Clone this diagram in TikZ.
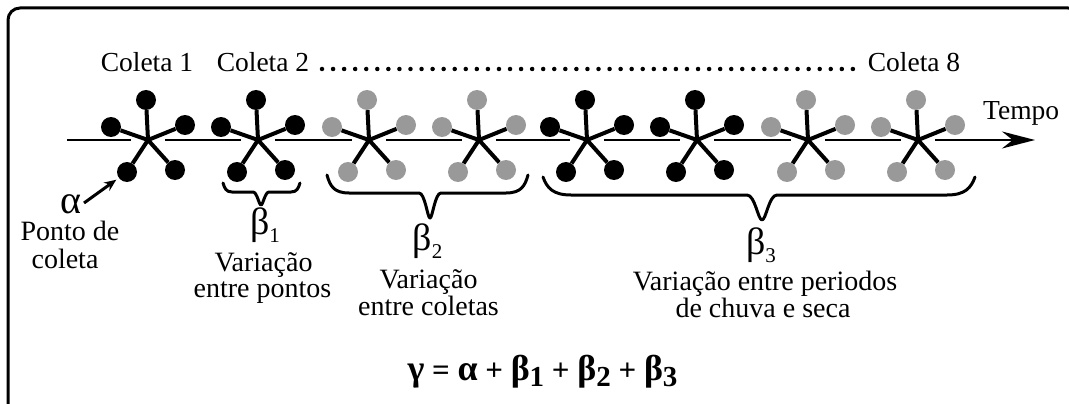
\documentclass[tikz,border=0pt]{standalone}
\usepackage{fontspec}
\setmainfont{Liberation Serif}
\usetikzlibrary{arrows.meta}
\definecolor{dotgray}{HTML}{999999}
\newcommand{\fgr}[1]{{\fontsize{36}{36}\selectfont #1}}
\newcommand{\fsb}[1]{\raisebox{-6pt}{\fontsize{29}{29}\selectfont #1}}
\begin{document}
\begin{tikzpicture}[x=1pt,y=-1pt,
  lbl/.style={inner sep=0pt, font=\fontsize{27.5}{27}\selectfont},
  txt/.style={inner sep=0pt, font=\fontsize{28}{27}\selectfont},
  greek/.style={inner sep=0pt, font=\fontsize{38}{38}\selectfont},
  arm/.style={line width=4pt},
  bdot/.style={circle, fill=black, inner sep=0pt, minimum size=20pt},
  gdot/.style={circle, fill=dotgray, inner sep=0pt, minimum size=20pt},
  axisline/.style={line width=2pt},
  bracepath/.style={line width=3pt, line cap=round, line join=round},
]
\useasboundingbox (0,0) rectangle (1069,404);
% frame
\begin{scope}
\clip (0,0) rectangle (1069,404);
\draw[line width=3pt, rounded corners=12pt] (8,8) rectangle (1080,415);
\end{scope}

% stars
\foreach \i/\x/\c in {1/148/bdot,2/258/bdot,3/369/gdot,4/479/gdot,5/587/bdot,6/697/bdot,7/808/gdot,8/918/gdot}{
  \coordinate (c\i) at (\x,140);
  \node[\c] (t\i)  at (\x-2,100) {};
  \node[\c] (l\i)  at (\x-37,127) {};
  \node[\c] (r\i)  at (\x+37,125) {};
  \node[\c] (ll\i) at (\x-21,172) {};
  \node[\c] (lr\i) at (\x+27,170) {};
  \draw[arm] (c\i) -- (t\i);
  \draw[arm] (c\i) -- (l\i);
  \draw[arm] (c\i) -- (r\i);
  \draw[arm] (c\i) -- (ll\i);
  \draw[arm] (c\i) -- (lr\i);
}

% time axis
\coordinate (axstart) at (67,140);
\coordinate (axend) at (1035,140);
\draw[axisline] (axstart) -- ([xshift=-17pt]c1);
\foreach \i/\j in {1/2,2/3,3/4,4/5,5/6,6/7,7/8}{
  \draw[axisline] ([xshift=17pt]c\i) -- ([xshift=-17pt]c\j);
}
\draw[axisline, -{Stealth[length=33pt,width=17pt]}] ([xshift=17pt]c8) -- (axend);
\node[lbl, anchor=base west] (tempo) at (983,119) {Tempo};

% collection labels
\node[lbl, anchor=base] (col1) at (147,72) {Coleta 1};
\node[lbl, anchor=base] (col2) at (263,72) {Coleta 2};
\node[lbl, anchor=base] (col8) at (914,72) {Coleta 8};
\coordinate (dotA) at (322,69);
\coordinate (dotB) at (853,69);
\draw[line width=4.5pt, line cap=round, dash pattern=on 0pt off 11.06pt] (dotA) -- (dotB);

% alpha
\node[inner sep=0pt, font=\fontsize{40}{40}\selectfont, anchor=base] (alpha) at (71,213) {α};
\coordinate (aS) at (84,203);
\draw[line width=3pt, shorten >=3pt, -{Stealth[length=12pt,width=10pt]}] (aS) -- (ll1);
\node[txt, anchor=base] (ponto1) at (70,240) {Ponto de};
\node[txt, anchor=base] (ponto2) at (65,268) {coleta};

% braces
\draw[bracepath] (223,183) .. controls (224.5,188) and (226,192) .. (232,192) -- (253,192)
  .. controls (257,192) and (259,205) .. (261,205)
  .. controls (263,205) and (265,192) .. (269,192) -- (291,192)
  .. controls (297,192) and (298.5,188) .. (300,183);
\draw[bracepath] (327,175) .. controls (330,186) and (334,193) .. (349,193) -- (419,193)
  .. controls (425,193) and (427.5,218) .. (430,218)
  .. controls (432.5,218) and (435,193) .. (441,193) -- (506,193)
  .. controls (521,193) and (525,186) .. (528,175);
\draw[bracepath] (543,177) .. controls (547,188) and (553,195) .. (571,195) -- (747,195)
  .. controls (755,195) and (758,220) .. (762,220)
  .. controls (766,220) and (769,195) .. (777,195) -- (947,195)
  .. controls (965,195) and (971,188) .. (975,177);

% beta labels
\node[greek, anchor=base] (b1) at (265,234) {β\raisebox{-8pt}{\fontsize{21}{21}\selectfont 1}};
\node[txt, anchor=base] (b1t1) at (263.5,271) {Variação};
\node[txt, anchor=base] (b1t2) at (262.5,297) {entre pontos};

\node[greek, anchor=base] (b2) at (427.5,250) {β\raisebox{-8pt}{\fontsize{21}{21}\selectfont 2}};
\node[txt, anchor=base] (b2t1) at (428.5,288) {Variação};
\node[txt, anchor=base] (b2t2) at (428.5,315) {entre coletas};

\node[greek, anchor=base] (b3) at (761,254) {β\raisebox{-8pt}{\fontsize{21}{21}\selectfont 3}};
\node[txt, anchor=base] (b3t1) at (765,290) {Variação entre periodos};
\node[txt, anchor=base] (b3t2) at (763,317) {de chuva e seca};

% formula
\node[inner sep=0pt, anchor=base, font=\fontsize{31}{31}\selectfont\bfseries] (formula) at (542.5,380)
  {\fgr{γ} = \fgr{α} + \fgr{β}\fsb{1} + \fgr{β}\fsb{2} + \fgr{β}\fsb{3}};
\end{tikzpicture}
\end{document}
